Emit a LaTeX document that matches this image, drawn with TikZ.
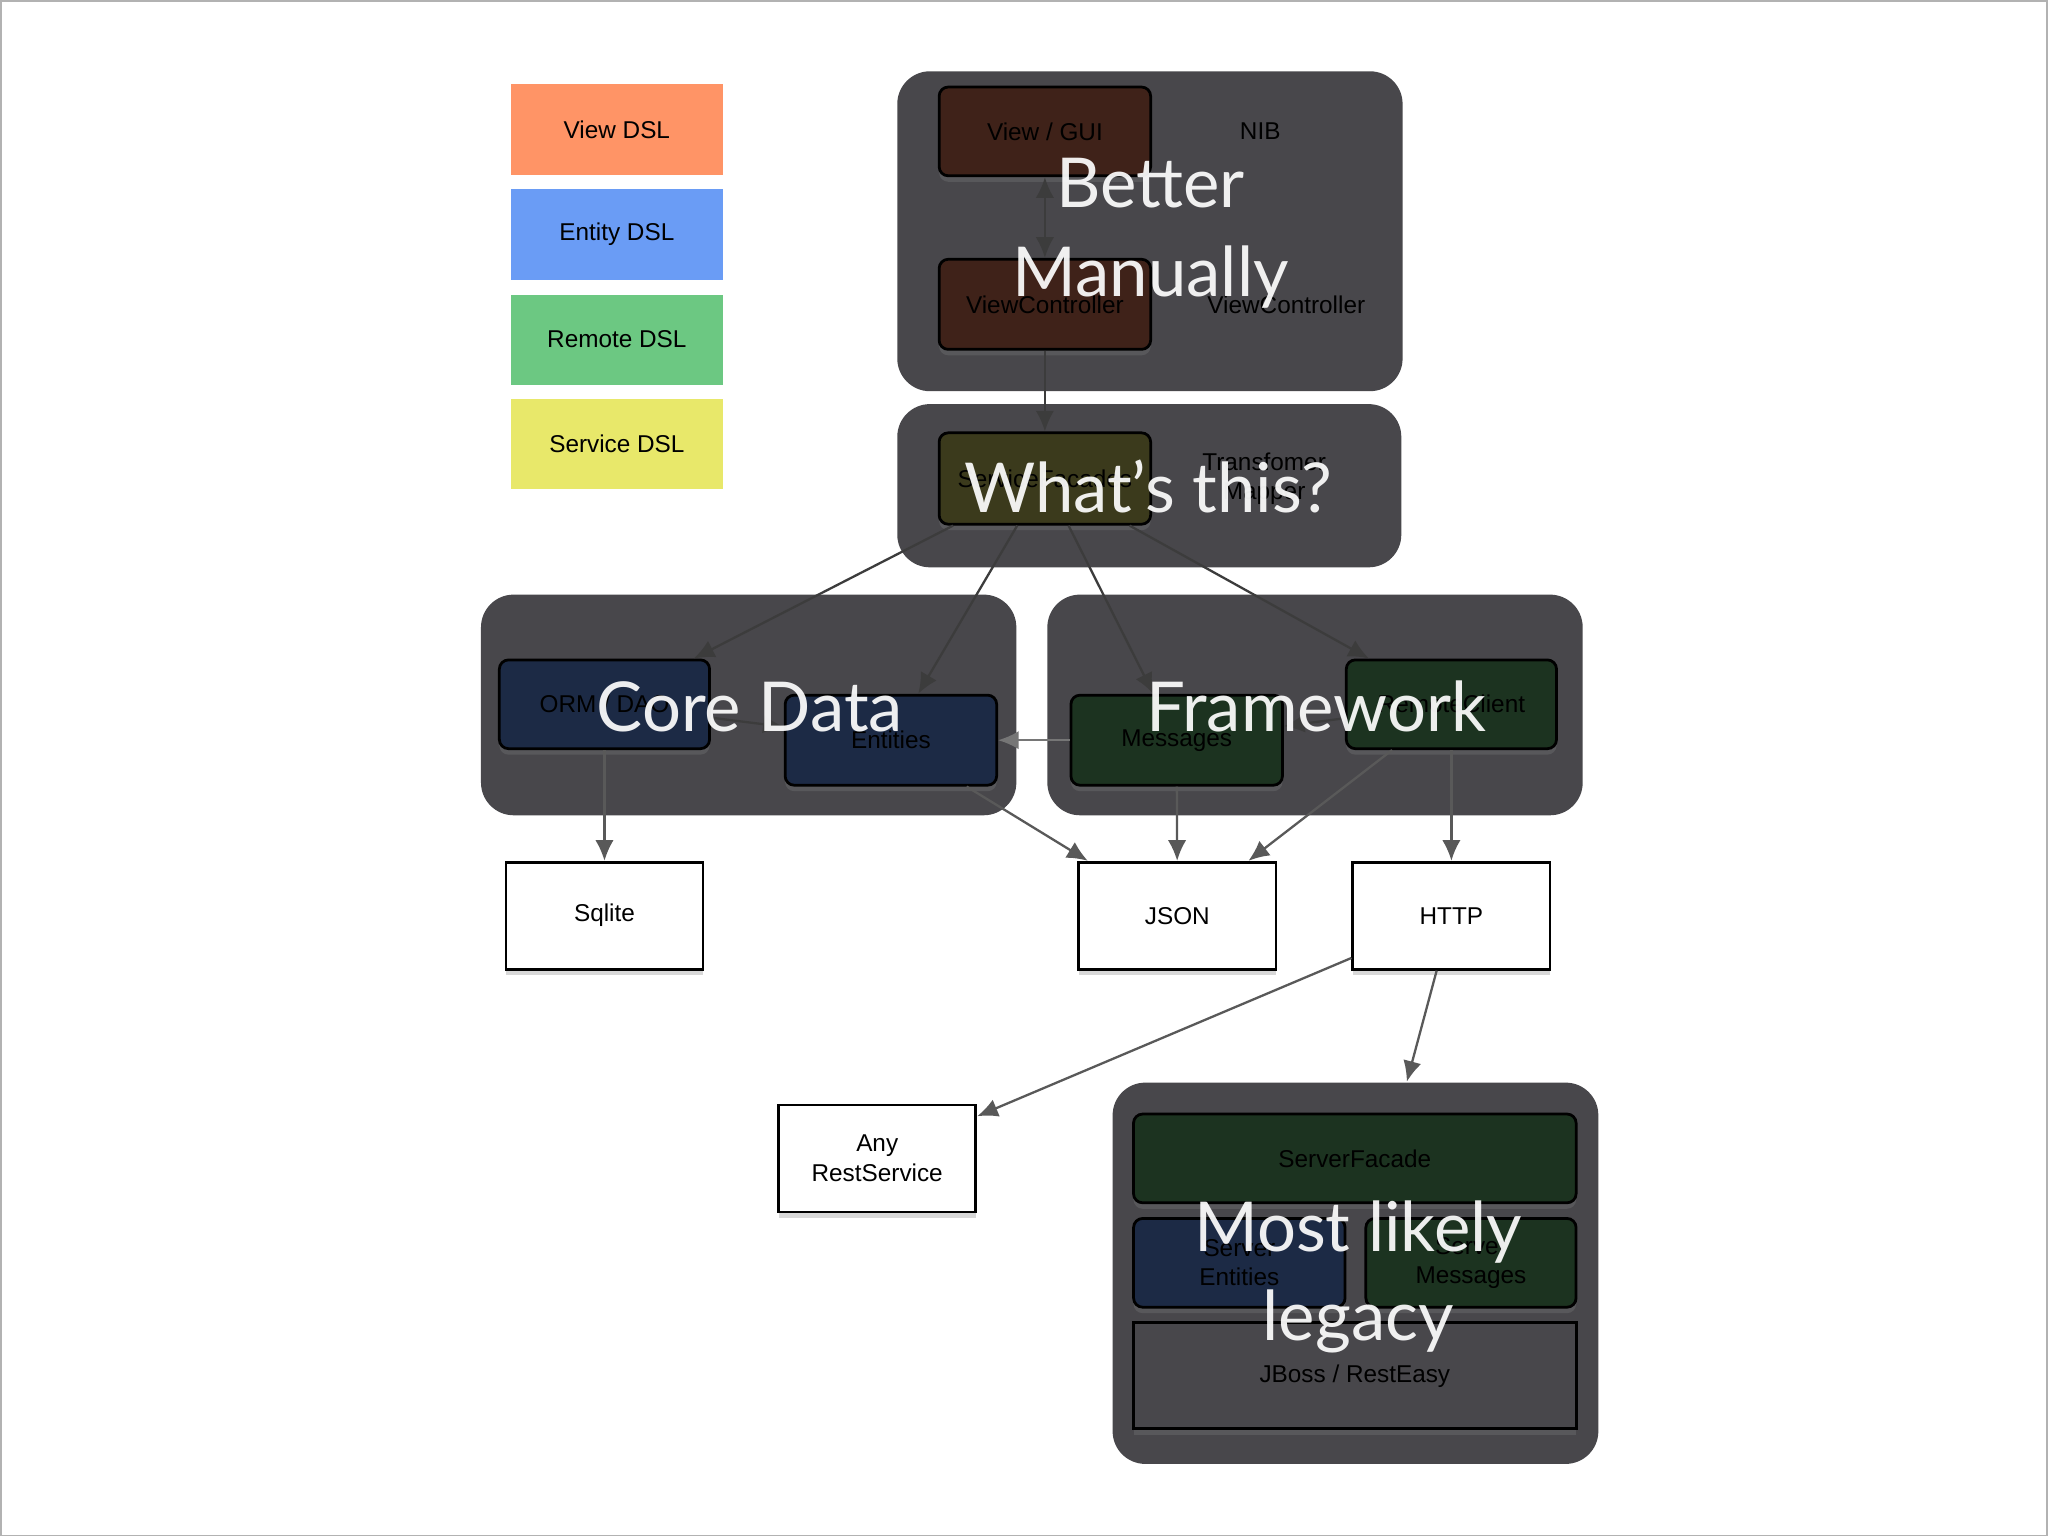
\documentclass[tikz,border=0pt]{standalone}
\usepackage{fontspec}
\setmainfont{Liberation Sans}
\newfontfamily\bigfont{Lato}
\usetikzlibrary{arrows.meta,shadows}
\definecolor{panel}{HTML}{48474B}
\definecolor{brownb}{HTML}{3F2219}
\definecolor{oliveb}{HTML}{3B3A1C}
\definecolor{blueb}{HTML}{1C2A45}
\definecolor{greenb}{HTML}{1C3320}
\definecolor{lgorange}{HTML}{FF9466}
\definecolor{lgblue}{HTML}{6A9CF5}
\definecolor{lggreen}{HTML}{6CC882}
\definecolor{lgyellow}{HTML}{E8E86A}
\definecolor{arr}{HTML}{3C3C3C}
\tikzset{
 lbl/.style={font=\fontsize{5.3pt}{6.4pt}\selectfont, align=center, inner sep=0pt},
 legend/.style={lbl, minimum width=1.62cm, minimum height=0.69cm},
 panelbox/.style={fill=panel, rounded corners=0.25cm, inner sep=0pt},
 shd/.style={drop shadow={opacity=0.3, shadow xshift=0pt, shadow yshift=-1.3pt}},
 inbox/.style={lbl, draw=black, line width=0.6pt, rounded corners=0.07cm, shd},
 wbox/.style={lbl, draw=black, line width=0.6pt, fill=white, minimum width=1.51cm, minimum height=0.82cm, shd},
 conn/.style={draw=arr, line width=0.5pt, -{Latex[length=4.5pt,width=4pt]}},
 bigt/.style={text=white, text opacity=0.92, font=\bigfont\fontsize{15pt}{19.5pt}\selectfont, align=center, inner sep=0pt}
}
\begin{document}
\begin{tikzpicture}[x=0.01cm,y=-0.01cm]
\draw[fill=white, draw=gray!60] (0,0) rectangle (1568,1176);
% legend
\node[legend, fill=lgorange] (lv) at (472,98.5) {View DSL};
\node[legend, fill=lgblue] (le) at (472,179) {Entity DSL};
\node[legend, fill=lggreen] (lr) at (472,259.5) {Remote DSL};
\node[legend, fill=lgyellow] (ls) at (472,339.5) {Service DSL};
% panels
\node[panelbox, minimum width=3.87cm, minimum height=2.45cm] (ptop) at (880.5,176.5) {};
\node[panelbox, minimum width=3.86cm, minimum height=1.25cm] (pmid) at (880,371.5) {};
\node[panelbox, minimum width=4.10cm, minimum height=1.69cm] (pcore) at (573,539.5) {};
\node[panelbox, minimum width=4.10cm, minimum height=1.69cm] (pfw) at (1007,539.5) {};
\node[panelbox, minimum width=3.72cm, minimum height=2.92cm] (pleg) at (1038,975) {};
% inner boxes
\node[inbox, fill=brownb, minimum width=1.62cm, minimum height=0.68cm] (gui) at (800,100) {View / GUI};
\node[lbl] (nib) at (965,100) {NIB};
\node[inbox, fill=brownb, minimum width=1.62cm, minimum height=0.69cm] (vc) at (800,232.5) {ViewController};
\node[lbl] (vc2) at (985,233) {ViewController};
\node[inbox, fill=oliveb, minimum width=1.62cm, minimum height=0.70cm] (sf) at (800,366) {ServiceFacades};
\node[lbl] (tm) at (968,366) {Transfomer\\Mapper};
\node[inbox, fill=blueb, minimum width=1.61cm, minimum height=0.68cm] (orm) at (462.5,539) {ORM / DAO};
\node[inbox, fill=blueb, minimum width=1.62cm, minimum height=0.69cm] (ent) at (682,566.5) {Entities};
\node[inbox, fill=greenb, minimum width=1.62cm, minimum height=0.69cm] (msg) at (901,566.5) {Messages};
\node[inbox, fill=greenb, minimum width=1.61cm, minimum height=0.68cm] (rc) at (1111.5,539) {RemoteClient};
\node[inbox, fill=greenb, minimum width=3.39cm, minimum height=0.68cm] (sfac) at (1037.5,887) {ServerFacade};
\node[inbox, fill=blueb, minimum width=1.62cm, minimum height=0.68cm] (sent) at (949,967) {Server\\Entities};
\node[inbox, fill=greenb, minimum width=1.61cm, minimum height=0.68cm] (smsg) at (1126.5,967) {Server\\Messages};
\node[lbl, draw=black, line width=0.6pt, fill=panel, minimum width=3.39cm, minimum height=0.81cm, shd] (jb) at (1037.5,1053.5) {JBoss / RestEasy};
% white boxes
\node[wbox] (sql) at (462.5,701) {Sqlite};
\node[wbox] (json) at (901.5,701) {JSON};
\node[wbox] (http) at (1111.5,701) {HTTP};
\node[wbox] (any) at (671.5,887) {Any\\RestService};
% connectors
\draw[conn, {Latex[length=4.5pt,width=4pt]}-{Latex[length=4.5pt,width=4pt]}] (gui) -- (vc);
\draw[conn] (vc) -- (sf);
\draw[conn] (sf) -- (orm);
\draw[conn] (sf) -- (ent);
\draw[conn] (sf) -- (msg);
\draw[conn] (sf) -- (rc);
\draw[conn] (orm) -- (ent);
\draw[conn, draw=arr!70] (msg) -- (ent);
\draw[conn] (rc) -- (msg);
\draw[conn, draw=arr!85] (orm) -- (sql);
\draw[conn, draw=arr!85] (ent) -- (json);
\draw[conn, draw=arr!85] (msg) -- (json);
\draw[conn, draw=arr!85] (rc) -- (json);
\draw[conn, draw=arr!85] (rc.south -| http) -- (http);
\draw[conn, draw=arr!85] (http) -- (any);
\draw[conn, draw=arr!85] (http) -- (pleg);
% overlay titles
\node[bigt] (t1) at (881,178) {Better\\Manually};
\node[bigt] (t2) at (879,372) {What’s this?};
\node[bigt] (t3) at (574,541) {Core Data};
\node[bigt] (t4) at (1008,541) {Framework};
\node[bigt] (t5) at (1040,978) {Most likely\\legacy};
\end{tikzpicture}
\end{document}
